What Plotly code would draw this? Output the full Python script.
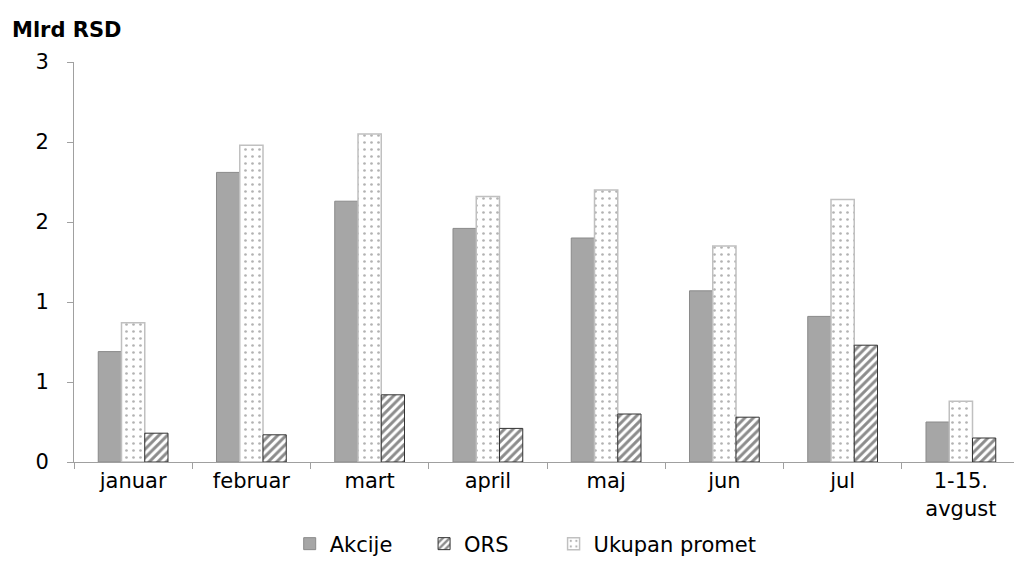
import plotly.graph_objects as go

months = ["januar", "februar", "mart", "april", "maj", "jun", "jul", "1-15.<br>avgust"]
akcije = [0.69, 1.81, 1.63, 1.46, 1.40, 1.07, 0.91, 0.25]
ors = [0.18, 0.17, 0.42, 0.21, 0.30, 0.28, 0.73, 0.15]
ukupan = [0.87, 1.98, 2.05, 1.66, 1.70, 1.35, 1.64, 0.38]

tick_vals = [0, 0.5, 1, 1.5, 2, 2.5]
tick_text = ["0", "1", "1", "2", "2", "3"]

pad = "\u00a0"  # widens the gaps between legend entries

fig = go.Figure()
fig.add_trace(go.Bar(
    x=months, y=akcije, name="Akcije" + pad * 4, legendrank=1,
    marker=dict(color="#a6a6a6", line=dict(color="#8a8a8a", width=1)),
))
fig.add_trace(go.Bar(
    x=months, y=ukupan, name="Ukupan promet", legendrank=3,
    marker=dict(color="white", line=dict(color="#c0c0c0", width=1.5),
                pattern=dict(shape=".", fgcolor="#666666", bgcolor="white",
                             size=7, solidity=0.12)),
))
fig.add_trace(go.Bar(
    x=months, y=ors, name="ORS" + pad * 6, legendrank=2,
    marker=dict(color="white", line=dict(color="#333333", width=1),
                pattern=dict(shape="/", fgcolor="#1a1a1a", bgcolor="white",
                             size=6, solidity=0.5)),
))

# the page has an 8px body margin, so margins are shifted by it
fig.update_layout(
    width=1022, height=563,
    barmode="group", bargap=0.41, bargroupgap=0,
    plot_bgcolor="white", paper_bgcolor="white",
    font=dict(family="DejaVu Sans", size=21, color="black"),
    margin=dict(l=66, r=10, t=54, b=109, autoexpand=False),
    legend=dict(orientation="h", x=0.228, xanchor="left", y=-0.205, yanchor="middle",
                font=dict(size=21), traceorder="normal", itemwidth=30),
)
fig.add_annotation(text="<b>Mlrd RSD</b>", xref="paper", yref="paper",
                   x=-0.0677, y=1.08, xanchor="left", yanchor="middle",
                   showarrow=False, font=dict(size=21))

fig.update_yaxes(range=[0, 2.5], tickvals=tick_vals, ticktext=tick_text,
                 showgrid=False, showline=True, linecolor="#a0a0a0", linewidth=1,
                 ticks="outside", tickcolor="#a0a0a0", ticklen=6,
                 ticklabelstandoff=14, automargin=False)
fig.update_xaxes(showgrid=False, showline=True, linecolor="#a0a0a0", linewidth=1,
                 ticks="outside", tickcolor="#a0a0a0", ticklen=6,
                 tickson="boundaries", automargin=False)

fig.write_html("out.html")
